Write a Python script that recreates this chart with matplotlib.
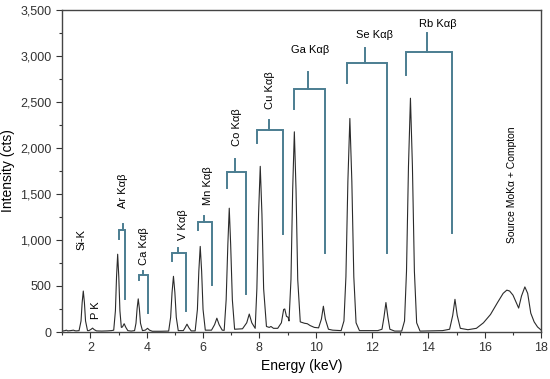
import numpy as np
import matplotlib
matplotlib.use("Agg")
import matplotlib.pyplot as plt
from matplotlib.ticker import MultipleLocator, StrMethodFormatter

plt.rcParams["font.family"] = ["Liberation Sans", "DejaVu Sans"]

# spectrum (energy in keV, counts)
energy = [1.0, 1.1, 1.15, 1.2, 1.3, 1.4, 1.45, 1.5,
          1.6, 1.67, 1.71, 1.75, 1.79, 1.83, 1.9,
          1.95, 2.02, 2.08, 2.14, 2.22, 2.4, 2.6, 2.75,
          2.83, 2.89, 2.93, 2.97, 3.01, 3.05, 3.1, 3.14, 3.2, 3.26, 3.33,
          3.45, 3.57, 3.62, 3.66, 3.70, 3.74, 3.78, 3.85, 3.95, 4.03, 4.1, 4.2,
          4.5, 4.78, 4.85, 4.9, 4.95, 5.0, 5.05, 5.12, 5.3, 5.36, 5.43, 5.5, 5.58,
          5.72, 5.8, 5.85, 5.9, 5.95, 6.0, 6.08, 6.3, 6.41, 6.49, 6.57, 6.68,
          6.75, 6.82, 6.88, 6.93, 6.98, 7.04, 7.12, 7.4, 7.55, 7.64, 7.73, 7.85,
          7.91, 7.97, 8.03, 8.09, 8.15, 8.25, 8.35, 8.41, 8.5, 8.65, 8.78, 8.86,
          8.9, 8.96, 9.02, 9.05, 9.12, 9.18, 9.24, 9.3, 9.36, 9.45, 9.6, 9.7,
          9.8, 9.95, 10.1, 10.2, 10.27, 10.34, 10.45, 10.6,
          10.9, 11.0, 11.07, 11.14, 11.21, 11.28, 11.35, 11.43, 11.55,
          12.2, 12.35, 12.42, 12.49, 12.56, 12.63, 12.8,
          13.05, 13.15, 13.22, 13.29, 13.36, 13.43, 13.5, 13.58, 13.7,
          14.5, 14.75, 14.86, 14.94, 15.02, 15.13, 15.4, 15.7, 15.95, 16.2,
          16.45, 16.65, 16.78, 16.88, 17.0, 17.1, 17.2, 17.3, 17.42, 17.52,
          17.63, 17.75, 17.87, 18.0]
counts = [10, 15, 20, 12, 15, 20, 14, 12,
          15, 120, 320, 445, 320, 120, 15,
          15, 28, 42, 25, 12, 10, 12, 15,
          20, 230, 600, 845, 600, 230, 50, 55, 90, 50, 15,
          10, 15, 95, 255, 360, 255, 95, 15, 20, 40, 20, 8,
          8, 10, 160, 430, 605, 430, 160, 15, 15, 45, 85, 45, 12,
          12, 245, 660, 930, 660, 245, 20, 20, 80, 150, 80, 20,
          18, 350, 950, 1345, 950, 350, 30, 35, 100, 195, 100, 40,
          470, 1280, 1800, 1280, 470, 60, 50, 60, 40, 40, 100, 245,
          250, 170, 160, 120, 570, 1540, 2175, 1540, 570, 110, 95, 90,
          70, 50, 45, 140, 280, 140, 30, 20,
          15, 120, 600, 1640, 2320, 1640, 600, 100, 15,
          15, 30, 160, 320, 160, 30, 10,
          10, 120, 660, 1800, 2540, 1800, 660, 100, 10,
          15, 30, 180, 355, 180, 40, 25, 40, 100, 190,
          320, 420, 455, 445, 400, 330, 260, 390, 490, 420,
          205, 110, 55, 20]

# K alpha/beta markers: label, left leg, right leg, level, left end, right end, stem, stem top
kab_names = ["Ar", "Ca", "V", "Mn", "Co", "Cu", "Ga", "Se", "Rb"]
kab_left = [3.03, 3.71, 4.90, 5.83, 6.84, 7.90, 9.24, 11.10, 13.20]
kab_right = [3.245, 4.06, 5.40, 6.31, 7.52, 8.83, 10.33, 12.52, 14.83]
kab_level = [1109, 620, 855, 1192, 1736, 2196, 2641, 2920, 3047]
kab_left_end = [1008, 565, 775, 1109, 1569, 2051, 2421, 2703, 2793]
kab_right_end = [355, 203, 232, 511, 410, 1065, 862, 862, 1073]
kab_stem = [3.15, 3.88, 5.12, 6.05, 7.15, 8.33, 9.72, 11.74, 13.94]
kab_stem_top = [1171, 663, 916, 1261, 1877, 2304, 2823, 3084, 3247]
# where the label text sits (x centre, y bottom or centre)
kab_label_x = [3.15, 3.92, 5.28, 6.17, 7.20, 8.39, 9.79, 12.10, 14.32]
kab_label_y = [1348, 728, 1000, 1380, 2022, 2421, 3065, 3228, 3348]

fig = plt.figure(figsize=(5.5, 3.79), dpi=100)
ax = fig.add_axes([0.113, 0.124, 0.871, 0.85])

ax.plot(energy, counts, color="#2b2b2b", lw=0.8)

bc = "#4b7d91"
for i, name in enumerate(kab_names):
    ax.plot([kab_left[i], kab_left[i], kab_right[i], kab_right[i]],
            [kab_left_end[i], kab_level[i], kab_level[i], kab_right_end[i]],
            color=bc, lw=1.4, solid_joinstyle="miter")
    ax.plot([kab_stem[i], kab_stem[i]], [kab_level[i], kab_stem_top[i]], color=bc, lw=1.4)
    label = name + " K\u03b1\u03b2"
    if name in ["Ga", "Se", "Rb"]:
        ax.text(kab_label_x[i], kab_label_y[i], label, fontsize=8,
                ha="center", va="center")
    else:
        ax.text(kab_label_x[i], kab_label_y[i], label, fontsize=8,
                rotation=90, ha="center", va="bottom")

ax.text(1.70, 891, "Si-K", fontsize=8, rotation=90, ha="center", va="bottom")
ax.text(2.21, 141, "P K", fontsize=8, rotation=90, ha="center", va="bottom")
ax.text(16.96, 968, "Source MoK\u03b1 + Compton", fontsize=7.5, rotation=90,
        ha="center", va="bottom")

ax.set_xlim(1, 18)
ax.set_ylim(0, 3500)
ax.xaxis.set_major_locator(MultipleLocator(2))
ax.xaxis.set_minor_locator(MultipleLocator(1))
ax.yaxis.set_major_locator(MultipleLocator(500))
ax.yaxis.set_minor_locator(MultipleLocator(250))
ax.yaxis.set_major_formatter(StrMethodFormatter("{x:,.0f}"))
ax.tick_params(which="major", length=4, width=0.8, labelsize=9, colors="#333333")
ax.tick_params(which="minor", length=2.5, width=0.8, colors="#333333")
for s in ax.spines.values():
    s.set_color("#444444")
    s.set_linewidth(1.0)

ax.set_xlabel("Energy (keV)", fontsize=10, labelpad=3)
ax.set_ylabel("Intensity (cts)", fontsize=10, labelpad=4)

fig.savefig("out.png", dpi=100)
